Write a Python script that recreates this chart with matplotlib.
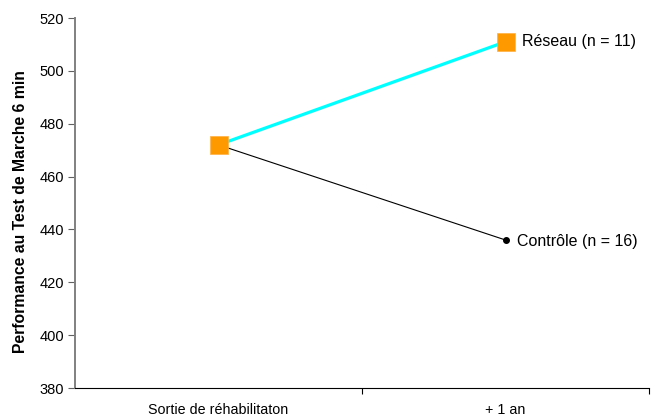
import matplotlib
matplotlib.use('Agg')
import matplotlib.pyplot as plt
from matplotlib.ticker import FixedLocator

plt.rcParams['font.family'] = ['Liberation Sans', 'DejaVu Sans']

# Walk test results (metres), discharge vs. one year later
periods = ['Sortie de réhabilitaton', '+ 1 an']
reseau = [472, 511]
controle = [472, 436]
reseau_label = 'Réseau (n = 11)'
controle_label = 'Contrôle (n = 16)'
y_ticks = [380, 400, 420, 440, 460, 480, 500, 520]

fig = plt.figure(figsize=(6.53, 4.17), dpi=100)
ax = fig.add_axes([75 / 653, 29 / 417, 574 / 653, 370 / 417])

x = list(range(len(periods)))

ax.plot(x, controle, color='black', linewidth=0.8, zorder=2)
ax.plot(x[-1], controle[-1], 'o', color='black', markersize=4, zorder=3)
ax.plot(x, reseau, color='#00FFFF', linewidth=2.3, zorder=4)
ax.plot(x, reseau, 's', color='#FF9900', markersize=13.5,
        markeredgecolor='#FFB040', markeredgewidth=0.5, zorder=5)

ax.annotate(reseau_label, (x[-1], reseau[-1]), xytext=(12, 0),
            textcoords='offset points', va='center', fontsize=11.5)
ax.annotate(controle_label, (x[-1], controle[-1]), xytext=(8, -1),
            textcoords='offset points', va='center', fontsize=11.5)

ax.set_xlim(-0.5, len(periods) - 0.5)
ax.set_ylim(y_ticks[0], y_ticks[-1])
ax.set_yticks(y_ticks)
ax.tick_params(axis='y', labelsize=10.5, length=5, width=0.8,
               color='#606060', pad=3)

ax.set_xticks(x)
ax.set_xticklabels(periods, fontsize=10.3)
ax.tick_params(axis='x', which='major', length=0, pad=11)
ax.xaxis.set_minor_locator(FixedLocator([0.5, 1.5]))
ax.tick_params(axis='x', which='minor', length=4, width=0.8, direction='out')

ax.set_ylabel('Performance au Test de Marche 6 min', fontsize=11.3,
              fontweight='bold')
ax.yaxis.set_label_coords(-0.082, 0.476)

ax.spines['top'].set_visible(False)
ax.spines['right'].set_visible(False)
ax.spines['left'].set_color('#808080')
ax.spines['left'].set_linewidth(1.4)
ax.spines['bottom'].set_linewidth(0.8)

fig.savefig('out.png', dpi=100, facecolor='white')
